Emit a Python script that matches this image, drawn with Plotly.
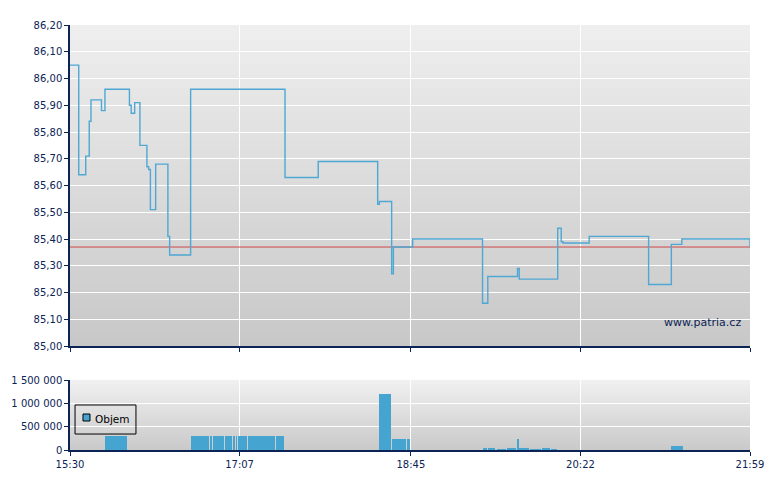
import plotly.graph_objects as go

DAY = "2024-05-10 "

# price ticks (step line), time -> price
price_time = ["15:30", "15:35", "15:39", "15:41", "15:42", "15:48", "15:50", "16:04",
              "16:05", "16:07", "16:10", "16:14", "16:15", "16:16", "16:19", "16:26",
              "16:27", "16:39", "17:33", "17:52", "18:26", "18:27", "18:34", "18:35",
              "18:46", "19:26", "19:29", "19:46", "19:47", "20:09", "20:11", "20:12",
              "20:27", "21:01", "21:14", "21:20", "21:58", "21:59"]
price = [86.05, 85.64, 85.71, 85.84, 85.92, 85.88, 85.96, 85.90,
         85.87, 85.91, 85.75, 85.67, 85.66, 85.51, 85.68, 85.41,
         85.34, 85.96, 85.63, 85.69, 85.53, 85.54, 85.27, 85.37,
         85.40, 85.16, 85.26, 85.29, 85.25, 85.44, 85.39, 85.385,
         85.41, 85.23, 85.38, 85.40, 85.40, 85.37]
prev_close = 85.37

# volume blocks
vol_start = ["15:50", "16:39", "16:50", "16:52", "16:59", "17:00", "17:02", "17:03",
             "17:05", "17:06", "17:12", "17:28", "18:27", "18:33", "18:34", "18:43",
             "19:26", "19:29", "19:34", "19:40", "19:46", "19:47", "19:53", "20:00",
             "20:05", "21:14", "21:20"]
vol_end = ["16:03", "16:50", "16:52", "16:59", "17:00", "17:02", "17:03", "17:05",
           "17:06", "17:12", "17:28", "17:33", "18:33", "18:34", "18:43", "18:45",
           "19:29", "19:34", "19:40", "19:46", "19:47", "19:53", "20:00", "20:05",
           "20:09", "21:20", "21:21"]
volume = [300000, 300000, 300000, 300000, 300000, 300000, 300000, 300000,
          300000, 300000, 300000, 300000, 1200000, 1200000, 240000, 240000,
          50000, 25000, 20000, 25000, 240000, 25000, 20000, 25000,
          20000, 85000, 85000]

x_ticks = ["15:30", "17:07", "18:45", "20:22", "21:59"]
price_ticks = [85.0 + i * 0.1 for i in range(13)]
vol_ticks = [0, 500000, 1000000, 1500000]

NAVY = "#0b2455"
BLUE = "#4fa7d3"
BAR = "#45a5d0"


def to_dt(t):
    return DAY + t + ":00"


def minutes(t):
    h, m = t.split(":")
    return int(h) * 60 + int(m)


fig = go.Figure()

fig.add_trace(go.Scatter(x=[to_dt(x_ticks[0]), to_dt(x_ticks[-1])], y=[prev_close, prev_close],
                         mode="lines", line=dict(color="#d04848", width=1),
                         showlegend=False, xaxis="x", yaxis="y"))
fig.add_trace(go.Scatter(x=[to_dt(t) for t in price_time], y=price, mode="lines",
                         line=dict(color=BLUE, width=1.4, shape="hv"),
                         showlegend=False, xaxis="x", yaxis="y"))

# small white gap between neighbouring blocks
widths = [(minutes(e) - minutes(s)) * 60000 - 38000 for s, e in zip(vol_start, vol_end)]
fig.add_trace(go.Bar(x=[to_dt(t) for t in vol_start], y=volume, width=widths, offset=0,
                     marker=dict(color=BAR, line=dict(width=0)), name="Objem",
                     showlegend=False, xaxis="x2", yaxis="y2"))


def gradient(xref, yref, top, bottom, n=80):
    # stacked from the bottom so strips overlap and leave no seams
    for i in range(n):
        f = i / (n - 1)
        c = [round(b + (t - b) * f) for t, b in zip(top, bottom)]
        fig.add_shape(type="rect", xref=xref, yref=yref, x0=0, x1=1,
                      y0=i / n, y1=1, layer="below", line_width=0,
                      fillcolor="rgb(%d,%d,%d)" % tuple(c))


gradient("x domain", "y domain", (238, 238, 238), (200, 200, 200))
gradient("x2 domain", "y2 domain", (240, 240, 240), (202, 202, 202))

# hand-drawn legend box (Objem)
fig.add_shape(type="rect", xref="paper", yref="paper", x0=0.0074, x1=0.097,
              y0=0.0376, y1=0.1059, line=dict(color="black", width=1),
              fillcolor="rgba(0,0,0,0)")
fig.add_shape(type="rect", xref="paper", yref="paper", x0=0.0191, x1=0.0294,
              y0=0.0682, y1=0.0847, line=dict(color="black", width=1),
              fillcolor=BAR)

tickfont = dict(family="DejaVu Sans", size=10, color=NAVY)
xr = [to_dt(x_ticks[0]), to_dt(x_ticks[-1])]
xcommon = dict(type="date", range=xr, tickvals=[to_dt(t) for t in x_ticks],
               ticktext=x_ticks, showgrid=True, gridcolor="white", gridwidth=1,
               ticks="outside", ticklen=4, tickcolor=NAVY, showline=True,
               linecolor=NAVY, linewidth=1.5, zeroline=False, tickfont=tickfont,
               automargin=False)
ycommon = dict(showgrid=True, gridcolor="white", gridwidth=1, ticks="outside",
               ticklen=4, tickcolor=NAVY, showline=True, linecolor=NAVY,
               linewidth=1.5, zeroline=False, tickfont=tickfont, automargin=False)

fig.update_layout(
    width=772, height=482,
    margin=dict(l=62, r=30, t=17, b=40),
    paper_bgcolor="white", plot_bgcolor="rgba(0,0,0,0)",
    separators=", ",
    bargap=0,
    showlegend=False,
    xaxis=dict(xcommon, domain=[0, 1], anchor="y", showticklabels=False),
    yaxis=dict(ycommon, domain=[0.2447, 1], anchor="x", range=[85.0, 86.2],
               tickvals=price_ticks, tickformat=".2f"),
    xaxis2=dict(xcommon, domain=[0, 1], anchor="y2", matches="x"),
    yaxis2=dict(ycommon, domain=[0, 0.1647], anchor="x2", range=[0, 1500000],
                tickvals=vol_ticks, tickformat=",d"),
    annotations=[dict(text="www.patria.cz", xref="paper", yref="paper",
                      x=0.99, y=0.299, xanchor="right", yanchor="middle",
                      showarrow=False,
                      font=dict(family="DejaVu Sans", size=11, color=NAVY)),
                 dict(text="Objem", xref="paper", yref="paper",
                      x=0.0338, y=0.0735, xanchor="left", yanchor="middle",
                      showarrow=False,
                      font=dict(family="DejaVu Sans", size=10.5, color="black"))],
)

fig.write_html("out.html")
